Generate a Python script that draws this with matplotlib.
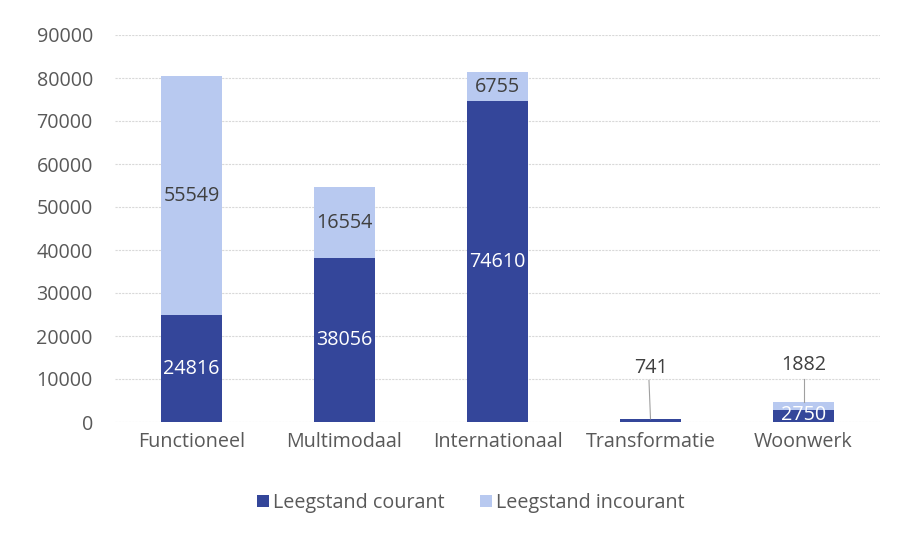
import matplotlib
matplotlib.use("Agg")
import matplotlib.pyplot as plt
import numpy as np

categories = ["Functioneel", "Multimodaal", "Internationaal", "Transformatie", "Woonwerk"]
courant = [24816, 38056, 74610, 741, 2750]
incourant = [55549, 16554, 6755, 0, 1882]
yticks = [0, 10000, 20000, 30000, 40000, 50000, 60000, 70000, 80000, 90000]

dark = "#34469A"
light = "#B8C9F0"
txt = "#595959"

plt.rcParams['font.family'] = ['Open Sans', 'DejaVu Sans']
fs = 14.2

fig = plt.figure(figsize=(9.05, 5.37), dpi=100)
ax = fig.add_axes([115/905, 1-422/537, (880-115)/905, (422-35)/537])

x = np.arange(len(categories))
w = 0.405
ax.bar(x, courant, w, color=dark, label="Leegstand courant", zorder=3)
ax.bar(x, incourant, w, bottom=courant, color=light, label="Leegstand incourant", zorder=3)

ax.set_xlim(-0.5, len(categories) - 0.5)
ax.set_ylim(0, 90000)
ax.set_yticks(yticks)
ax.set_yticklabels([str(v) for v in yticks])
ax.set_xticks(x)
ax.set_xticklabels(categories)
ax.tick_params(axis='both', length=0, labelsize=fs, colors=txt)
ax.tick_params(axis='y', pad=16)
ax.tick_params(axis='x', pad=7)
for s in ax.spines.values():
    s.set_visible(False)
ax.grid(axis='y', color="#D9D9D9", linestyle=(0, (2, 1)), linewidth=0.8, zorder=0)

for i in range(len(categories)):
    c, ic = courant[i], incourant[i]
    if c > 5000:
        ax.text(x[i], c / 2, str(c), ha='center', va='center', color='white', fontsize=fs, zorder=4)
    if ic > 5000:
        ax.text(x[i], c + ic / 2, str(ic), ha='center', va='center', color="#404040", fontsize=fs, zorder=4)

# small values with leader lines
i = 3
ytxt = 12500
ax.plot([x[i], x[i] - 0.01], [courant[i], ytxt - 2800], color="#A0A0A0", lw=0.8, zorder=4)
ax.text(x[i], ytxt, str(courant[i]), ha='center', va='center', color="#404040", fontsize=fs, zorder=4)
i = 4
ax.text(x[i], courant[i] / 2 + 150, str(courant[i]), ha='center', va='center', color='white', fontsize=fs, zorder=4)
ax.plot([x[i], x[i]], [courant[i] + incourant[i], 10000], color="#A0A0A0", lw=0.8, zorder=4)
ax.text(x[i], 13300, str(incourant[i]), ha='center', va='center', color="#404040", fontsize=fs, zorder=4)

leg = fig.legend(loc='center', bbox_to_anchor=(471/905, 1 - 503/537), ncol=2, frameon=False,
                 fontsize=fs, handlelength=0.6, handleheight=0.6, columnspacing=1.8, handletextpad=0.2)
for t in leg.get_texts():
    t.set_color(txt)

fig.savefig("out.png", dpi=100, facecolor="white")
